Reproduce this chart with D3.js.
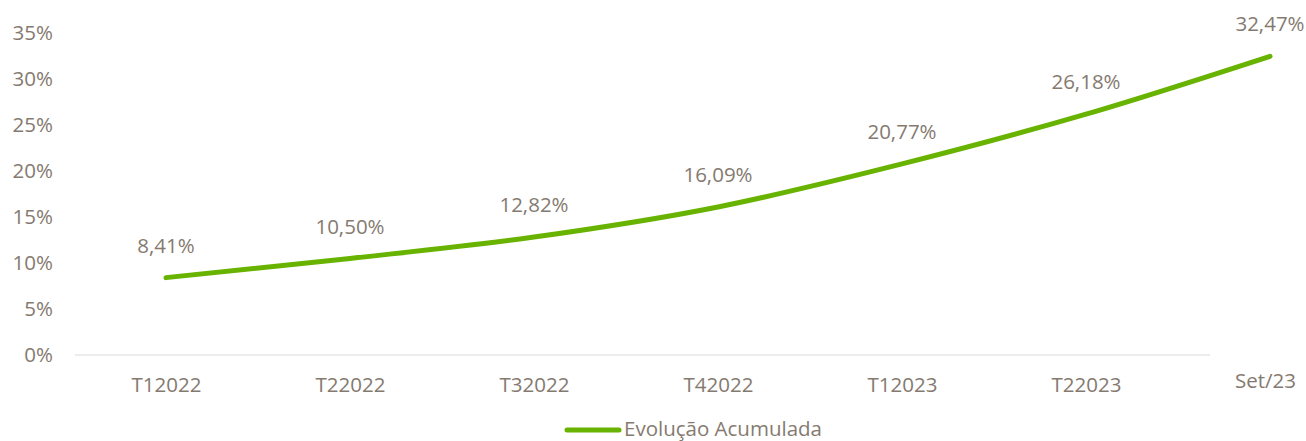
<!DOCTYPE html>
<html><head><meta charset="utf-8">
<script src="https://cdn.jsdelivr.net/npm/d3@7"></script>
<style>body{margin:0;background:#fff}svg{display:block}</style>
</head><body>
<script>
const categories = ["T12022","T22022","T32022","T42022","T12023","T22023","Set/23"];
const values = [8.41, 10.50, 12.82, 16.09, 20.77, 26.18, 32.47];
const yTicks = [0,5,10,15,20,25,30,35];
const seriesName = "Evolução Acumulada";

const W=1306,H=441, txt="#857a70", green="#68b300";
const font="'Open Sans', sans-serif";
const fs="20.5px";
const svg=d3.select("body").append("svg").attr("width",W).attr("height",H);
const x=d3.scalePoint().domain(categories).range([166,1270]);
const y=d3.scaleLinear().domain([0,35]).range([355,33]);

svg.append("line").attr("x1",75).attr("x2",1210).attr("y1",y(0)).attr("y2",y(0))
  .attr("stroke","#e6e6e6").attr("stroke-width",1.5);

const yAxis=d3.axisLeft(y).tickValues(yTicks).tickFormat(d=>d+"%").tickSize(0).tickPadding(0);
const gy=svg.append("g").attr("transform","translate(53,0)").call(yAxis);
gy.select(".domain").remove();
gy.selectAll("text").attr("fill",txt).style("font-family",font).style("font-size",fs);

const xAxis=d3.axisBottom(x).tickSize(0).tickPadding(0);
const gx=svg.append("g").attr("transform","translate(0,385)").call(xAxis);
gx.select(".domain").remove();
gx.selectAll("text").attr("fill",txt).style("font-family",font).style("font-size",fs)
  .attr("dy","0.35em")
  .attr("transform",d=>d==="Set/23"?"translate(-5,-4)":null);

const line=d3.line().x((d,i)=>x(categories[i])).y(d=>y(d)).curve(d3.curveMonotoneX);
svg.append("path").datum(values).attr("d",line).attr("fill","none")
  .attr("stroke",green).attr("stroke-width",5).attr("stroke-linecap","round");

svg.selectAll(".lbl").data(values).join("text").attr("class","lbl")
  .attr("x",(d,i)=>x(categories[i])).attr("y",d=>y(d)-32).attr("dy","0.35em")
  .attr("text-anchor","middle").attr("fill",txt).style("font-family",font).style("font-size",fs)
  .text(d=>d.toFixed(2).replace(".",",")+"%");

svg.append("line").attr("x1",567).attr("x2",619).attr("y1",430).attr("y2",430)
  .attr("stroke",green).attr("stroke-width",5).attr("stroke-linecap","round");
svg.append("text").attr("x",624).attr("y",429).attr("dy","0.35em").attr("fill",txt)
  .style("font-family",font).style("font-size",fs).text(seriesName);
</script>
</body></html>
